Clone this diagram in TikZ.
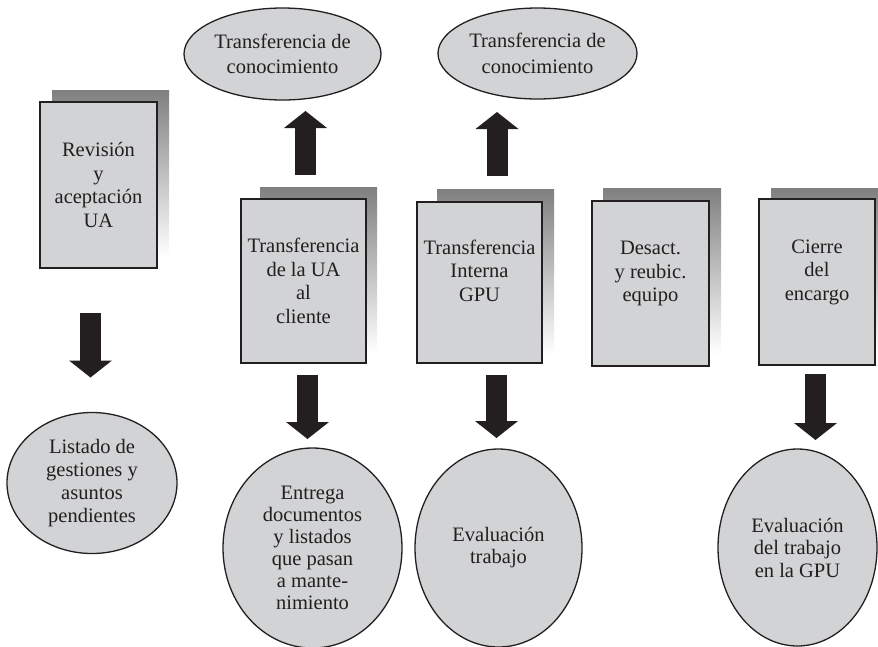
\documentclass[tikz,border=0pt]{standalone}
\usepackage{fontspec}
\setmainfont{Liberation Serif}
\usetikzlibrary{shapes.geometric,arrows.meta}
\definecolor{ink}{HTML}{231F20}
\definecolor{paper}{HTML}{D1D3D4}
\definecolor{shade}{HTML}{A7A9AC}
\begin{document}
\begin{tikzpicture}[x=1pt,y=-1pt,
  txt/.style={text=ink,font=\fontsize{20.5}{23.5}\selectfont,align=center},
  card/.style={txt,draw=ink,fill=paper,line width=1.8pt,inner sep=0pt,outer sep=0pt,rectangle},
  bubble/.style={txt,draw=ink,fill=paper,line width=1.3pt,ellipse,inner sep=0pt,outer sep=0pt},
  bigarrow/.style={draw=ink,line width=21pt,-{Triangle[width=43pt,length=17pt,line width=0pt,fill=ink]}}]
\useasboundingbox (0,0) rectangle (878,646);

% shadow sheets behind the stage cards
\fill[shade] (52,90) rectangle (169,257);
\fill[shade] (260,187) rectangle (377,353);
\fill[shade] (437,189) rectangle (554,355);
\fill[shade] (603,188) rectangle (721,354);
\fill[shade] (771,188) rectangle (890,354);

% stage cards
\node[card,minimum width=117pt,minimum height=166pt] (rev) at (98.5,185) {Revisión\\y\\aceptación\\UA};
\node[card,minimum width=125pt,minimum height=164pt] (tua) at (303.5,281) {Transferencia\\de la UA\\al\\cliente};
\node[card,minimum width=125pt,minimum height=161pt] (tig) at (479.5,282.5) {Transferencia\\Interna\\GPU\\\phantom{a}};
\node[card,minimum width=117pt,minimum height=165pt] (dsc) at (650.5,283.5) {Desact.\\y reubic.\\equipo\\\phantom{a}};
\node[card,minimum width=116pt,minimum height=166pt] (cie) at (817,282) {Cierre\\del\\encargo\\\phantom{a}};

% outcomes
\node[bubble,minimum width=197pt,minimum height=92pt,font=\fontsize{20.5}{25.5}\selectfont] (tk1) at (282.5,54) {Transferencia de\\conocimiento};
\node[bubble,minimum width=199pt,minimum height=91pt,font=\fontsize{20.5}{25.5}\selectfont] (tk2) at (537.5,53.5) {Transferencia de\\conocimiento};
\node[bubble,minimum width=170pt,minimum height=141pt,font=\fontsize{20.5}{23}\selectfont] (lst) at (92,483) {Listado de\\gestiones y\\asuntos\\pendientes};
\node[bubble,minimum width=179pt,minimum height=200pt,font=\fontsize{20.5}{22}\selectfont] (ent) at (312.5,548) {Entrega\\documentos\\y listados\\que pasan\\a mante-\\nimiento};
\node[bubble,minimum width=167pt,minimum height=198pt,font=\fontsize{20.5}{22}\selectfont] (ev1) at (498.5,548) {Evaluación\\trabajo};
\node[bubble,minimum width=159pt,minimum height=197pt,font=\fontsize{20.5}{22.5}\selectfont] (ev2) at (797.5,547.5) {Evaluación\\del trabajo\\en la GPU};

% block arrows
\draw[bigarrow] ([xshift=-8pt,yshift=-45pt]rev.south) -- ([xshift=-1.5pt,yshift=35pt]lst.north);
\draw[bigarrow] ([xshift=2pt,yshift=24pt]tua.north) -- ([xshift=23pt,yshift=-11pt]tk1.south);
\draw[bigarrow] ([xshift=17.5pt,yshift=26pt]tig.north) -- ([xshift=-40.5pt,yshift=-13pt]tk2.south);
\draw[bigarrow] ([xshift=4pt,yshift=-12pt]tua.south) -- ([xshift=-5pt,yshift=9pt]ent.north);
\draw[bigarrow] ([xshift=17pt,yshift=-12pt]tig.south) -- ([xshift=-2pt,yshift=11pt]ev1.north);
\draw[bigarrow] ([xshift=-1.5pt,yshift=-9pt]cie.south) -- ([xshift=18pt,yshift=9pt]ev2.north);
\end{tikzpicture}
\end{document}
